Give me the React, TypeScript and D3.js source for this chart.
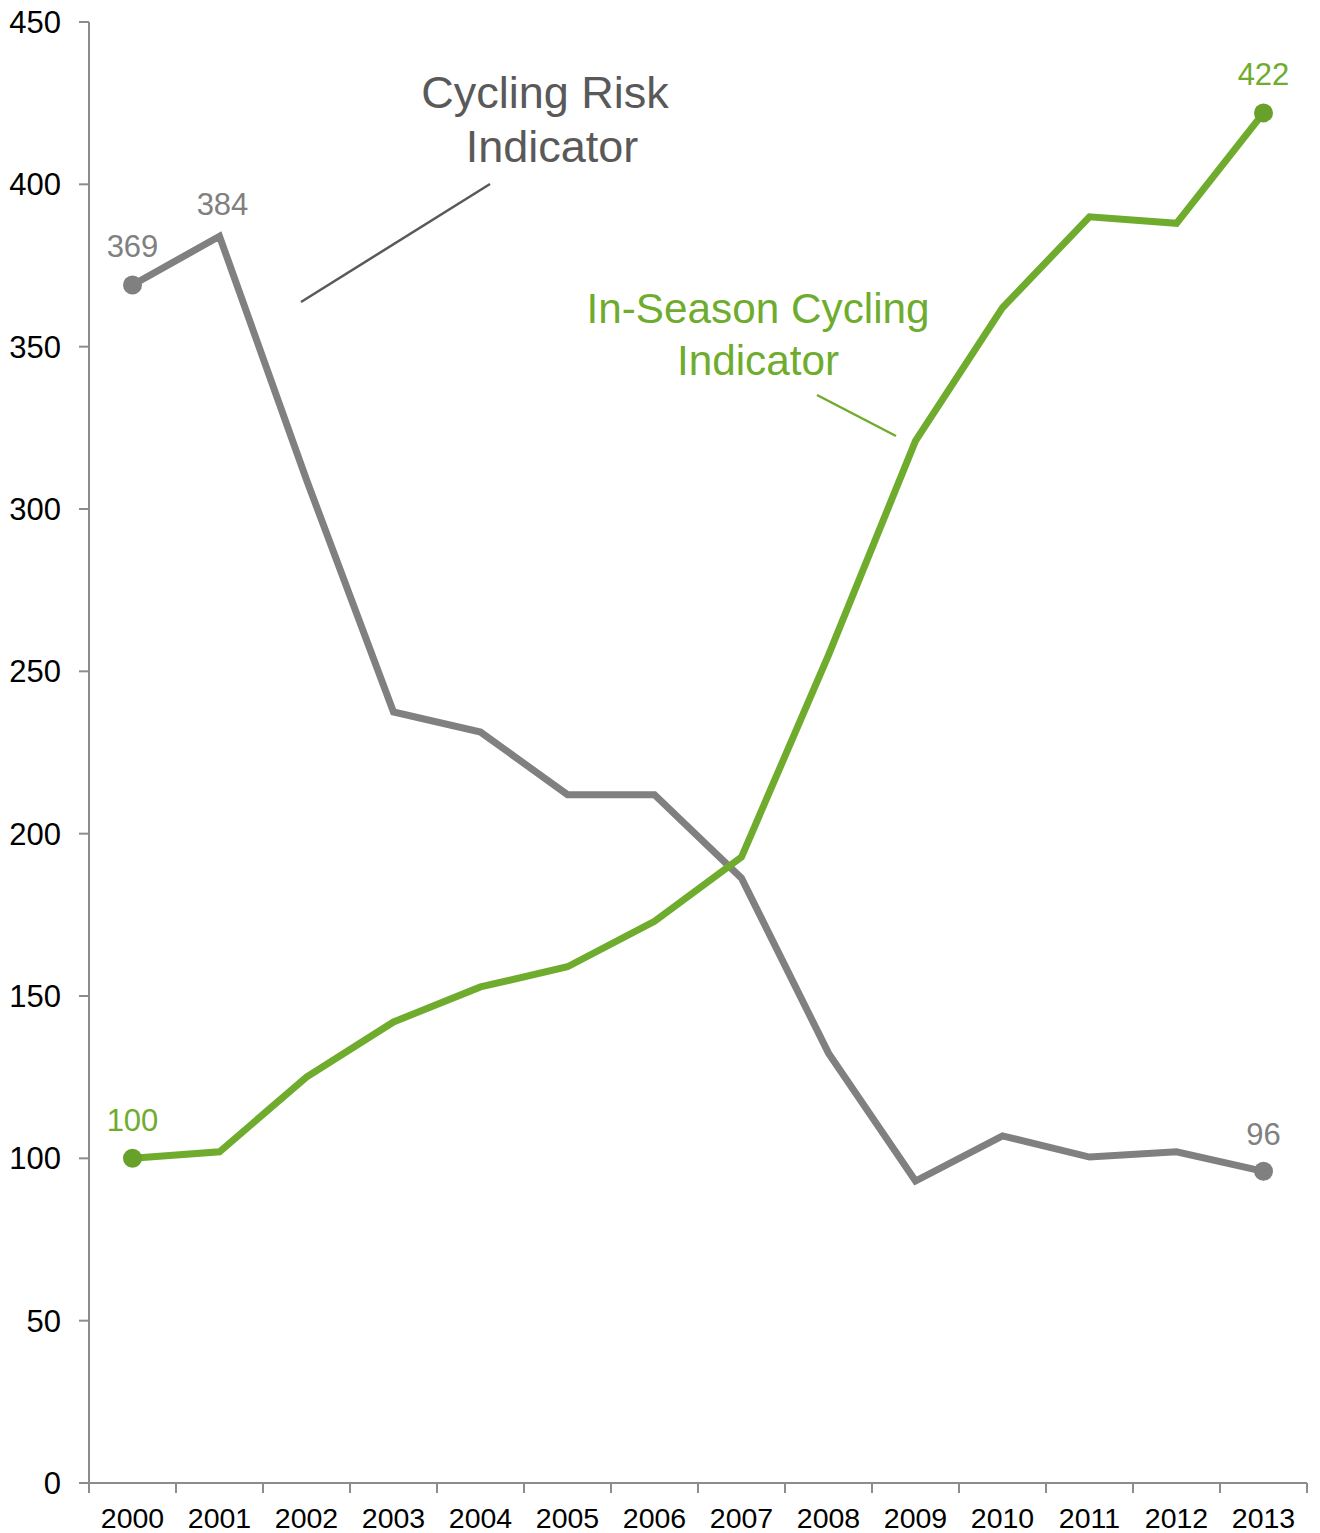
import React from "react";
import * as d3 from "d3";

const years = ["2000","2001","2002","2003","2004","2005","2006","2007","2008","2009","2010","2011","2012","2013"];
const riskValues = [369, 384, 309, 237.5, 231.3, 212, 212, 186.3, 132.4, 93, 106.9, 100.4, 102, 96];
const inSeasonValues = [100, 102, 125, 142, 152.8, 159, 173, 192.8, 255, 321, 362, 390, 388, 422];
const yTicks = [0, 50, 100, 150, 200, 250, 300, 350, 400, 450];
const riskLabels = [
  { i: 0, text: "369", dx: 0, dy: -28 },
  { i: 1, text: "384", dx: 3, dy: -21 },
  { i: 13, text: "96", dx: 0, dy: -26 },
];
const inSeasonLabels = [
  { i: 0, text: "100", dx: 0, dy: -27 },
  { i: 13, text: "422", dx: 0, dy: -28 },
];

const W = 1320, H = 1533;
const GRAY = "#808080";
const GREEN = "#6fac2e";
const GREEN_DOT = "#67a12a";
const AXIS = "#8c8c8c";
const FONT = "'Liberation Sans', Arial, sans-serif";

export default function App() {
  const x = d3.scaleBand<string>().domain(years).range([89, 1307]).padding(0);
  const y = d3.scaleLinear().domain([0, 450]).range([1483, 22]);
  const cx = (i: number) => (x(years[i]) as number) + x.bandwidth() / 2;
  const line = d3.line<number>().x((_, i) => cx(i)).y((d) => y(d));

  return (
    <svg width={W} height={H} style={{ position: "absolute", left: 0, top: 0, background: "#fff" }}>
      {/* y axis */}
      <line x1={89} x2={89} y1={y(450)} y2={y(0)} stroke={AXIS} strokeWidth={2} />
      {yTicks.map((t) => (
        <g key={t}>
          <line x1={79} x2={89} y1={y(t)} y2={y(t)} stroke={AXIS} strokeWidth={2} />
          <text x={61} y={y(t)} dy="0.36em" textAnchor="end" fontFamily={FONT} fontSize={31} fill="#000">{t}</text>
        </g>
      ))}
      {/* x axis */}
      <line x1={89} x2={1307} y1={y(0)} y2={y(0)} stroke={AXIS} strokeWidth={2} />
      {years.map((yr) => (
        <line key={"t" + yr} x1={x(yr) as number} x2={x(yr) as number} y1={y(0)} y2={y(0) + 10} stroke={AXIS} strokeWidth={2} />
      ))}
      <line x1={1307} x2={1307} y1={y(0)} y2={y(0) + 10} stroke={AXIS} strokeWidth={2} />
      {years.map((yr, i) => (
        <text key={yr} x={cx(i)} y={1528} textAnchor="middle" fontFamily={FONT} fontSize={28.5} fill="#000">{yr}</text>
      ))}

      {/* series */}
      <path d={line(riskValues) || ""} fill="none" stroke={GRAY} strokeWidth={7} strokeLinejoin="miter" />
      <path d={line(inSeasonValues) || ""} fill="none" stroke={GREEN} strokeWidth={7} strokeLinejoin="miter" />
      {[0, riskValues.length - 1].map((i) => (
        <circle key={"rc" + i} cx={cx(i)} cy={y(riskValues[i])} r={9.5} fill={GRAY} />
      ))}
      {[0, inSeasonValues.length - 1].map((i) => (
        <circle key={"gc" + i} cx={cx(i)} cy={y(inSeasonValues[i])} r={9.5} fill={GREEN_DOT} />
      ))}
      {riskLabels.map((l) => (
        <text key={"rl" + l.i} x={cx(l.i) + l.dx} y={y(riskValues[l.i]) + l.dy} textAnchor="middle" fontFamily={FONT} fontSize={31} fill={GRAY}>{l.text}</text>
      ))}
      {inSeasonLabels.map((l) => (
        <text key={"gl" + l.i} x={cx(l.i) + l.dx} y={y(inSeasonValues[l.i]) + l.dy} textAnchor="middle" fontFamily={FONT} fontSize={31} fill={GREEN}>{l.text}</text>
      ))}

      {/* annotations */}
      <text textAnchor="middle" fontFamily={FONT} fontSize={45} fill="#595959">
        <tspan x={545} y={108}>Cycling Risk</tspan>
        <tspan x={552} y={162}>Indicator</tspan>
      </text>
      <line x1={301} y1={302} x2={490} y2={184} stroke="#595959" strokeWidth={2.5} />
      <text textAnchor="middle" fontFamily={FONT} fontSize={42.3} fill={GREEN}>
        <tspan x={758} y={323}>In-Season Cycling</tspan>
        <tspan x={758} y={375}>Indicator</tspan>
      </text>
      <line x1={817} y1={395} x2={896} y2={436} stroke={GREEN} strokeWidth={2.5} />
    </svg>
  );
}
